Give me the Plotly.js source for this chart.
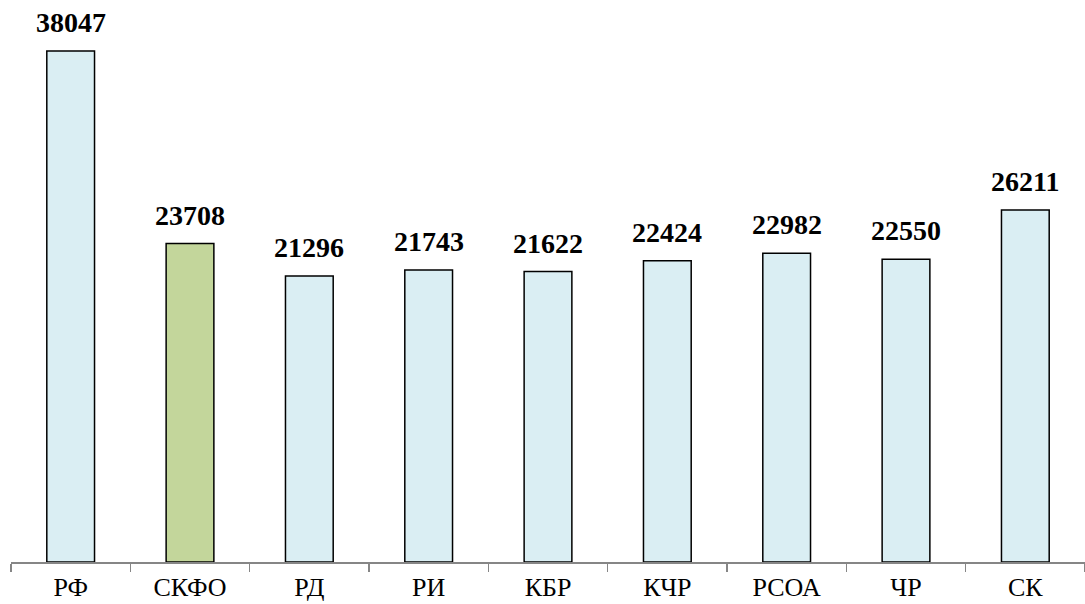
<!DOCTYPE html>
<html><head><meta charset="utf-8">
<script src="https://cdn.plot.ly/plotly-3.0.1.min.js"></script>
<style>html,body{margin:0;padding:0;background:#fff}</style>
</head><body>
<div id="chart" style="width:1085px;height:604px"></div>
<script>
const categories = ["РФ","СКФО","РД","РИ","КБР","КЧР","РСОА","ЧР","СК"];
const values = [38047,23708,21296,21743,21622,22424,22982,22550,26211];
const barColors = ["#DAEEF3","#C3D69B","#DAEEF3","#DAEEF3","#DAEEF3","#DAEEF3","#DAEEF3","#DAEEF3","#DAEEF3"];

const serif = "Liberation Serif, Times New Roman, serif";
const labelAnnotations = categories.map((c, i) => ({
  x: c, y: values[i], xref: "x", yref: "y",
  text: "<b>" + values[i] + "</b>",
  showarrow: false, yanchor: "bottom", yshift: 11,
  font: {family: serif, size: 28, color: "#000"}
}));

Plotly.newPlot("chart", [{
  type: "bar",
  x: categories,
  y: values,
  marker: {color: barColors, line: {color: "#000000", width: 1.5}},
  hoverinfo: "none"
}], {
  width: 1085, height: 604,
  margin: {l: 11, r: 0, t: 10, b: 42},
  paper_bgcolor: "#fff", plot_bgcolor: "#fff",
  bargap: 0.6,
  showlegend: false,
  annotations: labelAnnotations,
  xaxis: {
    type: "category",
    showline: true, linecolor: "#868686", linewidth: 1.5,
    ticks: "outside", tickson: "boundaries", ticklen: 8, tickcolor: "#868686", tickwidth: 1.5,
    tickfont: {family: serif, size: 26, color: "#000"},
    ticklabelstandoff: 1,
    showgrid: false, zeroline: false
  },
  yaxis: {range: [0, 41100], visible: false, showgrid: false, zeroline: false}
}, {displayModeBar: false, staticPlot: true});
</script>
</body></html>
